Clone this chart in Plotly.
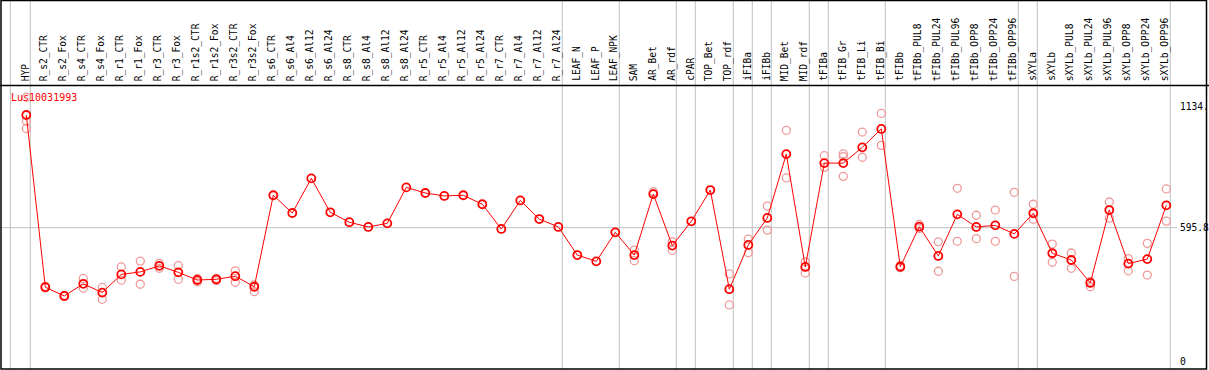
import plotly.graph_objects as go

W, H = 1209, 370

categories = [
    "HYP", "R_s2_CTR", "R_s2_Fox", "R_s4_CTR", "R_s4_Fox", "R_r1_CTR", "R_r1_Fox",
    "R_r3_CTR", "R_r3_Fox", "R_r1s2_CTR", "R_r1s2_Fox", "R_r3s2_CTR", "R_r3s2_Fox",
    "R_s6_CTR", "R_s6_Al4", "R_s6_Al12", "R_s6_Al24", "R_s8_CTR", "R_s8_Al4",
    "R_s8_Al12", "R_s8_Al24", "R_r5_CTR", "R_r5_Al4", "R_r5_Al12", "R_r5_Al24",
    "R_r7_CTR", "R_r7_Al4", "R_r7_Al12", "R_r7_Al24", "LEAF_N", "LEAF_P", "LEAF_NPK",
    "SAM", "AR_Bet", "AR_rdf", "cPAR", "TOP_Bet", "TOP_rdf", "iFIBa", "iFIBb",
    "MID_Bet", "MID_rdf", "tFIBa", "tFIB_Gr", "tFIB_Li", "tFIB_Bi", "tFIBb",
    "tFIBb_PUL8", "tFIBb_PUL24", "tFIBb_PUL96", "tFIBb_OPP8", "tFIBb_OPP24",
    "tFIBb_OPP96", "sXYLa", "sXYLb", "sXYLb_PUL8", "sXYLb_PUL24", "sXYLb_PUL96",
    "sXYLb_OPP8", "sXYLb_OPP24", "sXYLb_OPP96",
]

mean_values = [
    1097, 331, 292, 346, 307, 388, 399,
    426, 397, 363, 366, 380, 333,
    740, 661, 815, 664, 620, 599,
    615, 775, 750, 737, 740, 700,
    590, 717, 634, 599, 474, 446, 575,
    474, 745, 516, 624, 763, 322, 519, 639,
    923, 421, 883, 883, 953, 1035, 422,
    600, 470, 655, 599, 606,
    568, 660, 482, 452, 350, 674,
    436, 456, 695,
]

replicates = [
    [1176, 1070, 1037], [335, 328], [295, 290], [370, 326], [330, 277], [421, 362], [447, 344],
    [437, 415], [427, 366], [370, 355], [370, 360], [404, 353], [341, 311],
    [], [], [], [], [], [],
    [], [], [], [], [], [],
    [], [], [], [], [], [], [],
    [496, 449], [756, 748], [533, 495], [], [], [390, 252], [545, 484], [692, 585],
    [1029, 817], [444, 394], [916, 864], [924, 912, 824], [1021, 909], [1104, 962], [428, 418],
    [610, 592], [533, 402], [771, 535], [651, 547], [674, 535],
    [753, 379], [700, 633], [523, 442], [483, 415], [357, 333], [710, 638],
    [458, 404], [526, 385], [768, 625],
]

group_ends = ["HYP", "R_r7_Al24", "LEAF_NPK", "AR_rdf", "cPAR", "TOP_rdf", "iFIBa",
              "iFIBb", "MID_rdf", "tFIBa", "tFIB_Bi", "tFIBb_OPP96", "sXYLa", "sXYLb_OPP96"]

y_labels = [(1134.0, "1134."), (595.8, "595.8"), (0.0, "0")]
gene_id = "Lus10031993"

# pixel geometry
X0_PX, DX_PX = 26.3, 19.0
x_lo = -X0_PX / DX_PX
x_hi = x_lo + W / DX_PX
Y0_PX, SCALE = 361.6, 0.2248
y_lo = -(H - Y0_PX) / SCALE
y_hi = Y0_PX / SCALE

idx = list(range(len(categories)))
mono = "DejaVu Sans Mono"

fig = go.Figure()

rx, ry = [], []
for i, reps in enumerate(replicates):
    for v in reps:
        rx.append(i)
        ry.append(v)
fig.add_trace(go.Scatter(
    x=rx, y=ry, mode="markers",
    marker=dict(symbol="circle-open", size=8, color="#ef9a9a", line=dict(width=1.3, color="#ef9a9a")),
    hoverinfo="skip", showlegend=False,
))
fig.add_trace(go.Scatter(
    x=idx, y=mean_values, mode="lines+markers",
    line=dict(color="#ff0000", width=1),
    marker=dict(symbol="circle-open", size=8, color="#ff0000", line=dict(width=1.8, color="#ff0000")),
    text=categories, showlegend=False,
))

shapes = []
grey = "#c0c0c0"
shapes.append(dict(type="line", xref="paper", yref="y", x0=0, x1=1177 / W, y0=595.8, y1=595.8,
                   line=dict(color=grey, width=1), layer="below"))
shapes.append(dict(type="line", xref="x", yref="paper", x0=-0.84, x1=-0.84, y0=0, y1=1,
                   line=dict(color=grey, width=1), layer="below"))
for name in group_ends:
    i = categories.index(name)
    shapes.append(dict(type="line", xref="x", yref="paper", x0=i + 0.21, x1=i + 0.21, y0=0, y1=1,
                       line=dict(color=grey, width=1), layer="below"))
shapes.append(dict(type="line", xref="paper", yref="paper", x0=0, x1=1, y0=1 - 85.5 / H, y1=1 - 85.5 / H,
                   line=dict(color="black", width=1.5)))
shapes.append(dict(type="rect", xref="paper", yref="paper", x0=1 / W, x1=1206.5 / W, y0=1 - 369 / H, y1=1 - 0.5 / H,
                   line=dict(color="black", width=1.5)))

annotations = []
for i, c in enumerate(categories):
    annotations.append(dict(x=i - 0.05, xref="x", y=1 - 83 / H, yref="paper", text=c, showarrow=False,
                            textangle=-90, xanchor="center", yanchor="bottom",
                            font=dict(family=mono, size=9.6, color="black")))
annotations.append(dict(x=9 / W, xref="paper", y=1 - 97 / H, yref="paper", text=gene_id, showarrow=False,
                        xanchor="left", yanchor="middle", font=dict(family=mono, size=10, color="#ff0000")))
for v, t in y_labels:
    annotations.append(dict(x=1178 / W, xref="paper", y=v, yref="y", text=t, showarrow=False,
                            xanchor="left", yanchor="middle", font=dict(family=mono, size=9.6, color="black")))

fig.update_layout(
    width=W, height=H, margin=dict(l=0, r=0, t=0, b=0),
    paper_bgcolor="white", plot_bgcolor="white",
    xaxis=dict(range=[x_lo, x_hi], showgrid=False, zeroline=False, showticklabels=False, ticks=""),
    yaxis=dict(range=[y_lo, y_hi], showgrid=False, zeroline=False, showticklabels=False, ticks=""),
    shapes=shapes, annotations=annotations,
)

fig.write_html(
    "out.html",
    config={"displayModeBar": False},
    post_script="document.body.style.margin='0';document.body.style.padding='0';document.body.style.overflow='hidden';",
)
